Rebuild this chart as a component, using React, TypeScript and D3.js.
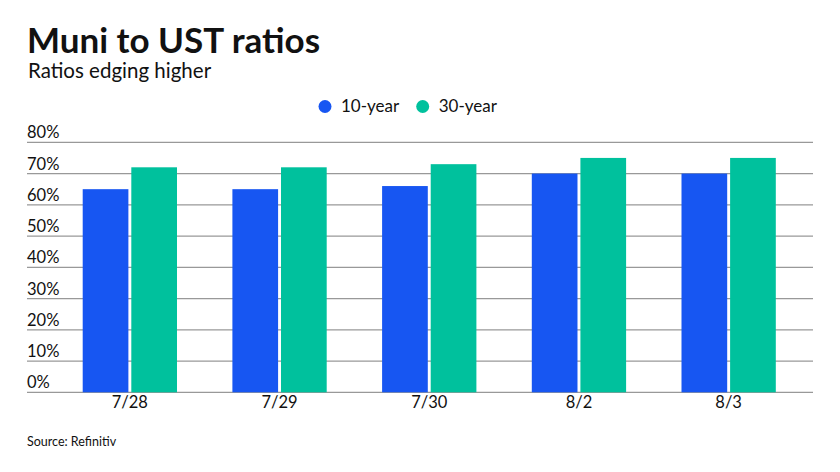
import React from "react";
import * as d3 from "d3";

const categories = ["7/28", "7/29", "7/30", "8/2", "8/3"];
const seriesNames = ["10-year", "30-year"];
const tenYear = [65, 65, 66, 70, 70];
const thirtyYear = [72, 72, 73, 75, 75];
const yTicks = [0, 10, 20, 30, 40, 50, 60, 70, 80];
const colors = ["#1756f2", "#00c19d"];

const W = 840;
const H = 472;

export default function App() {
  const x = d3.scaleBand<string>().domain(categories).range([55, 803.5]).padding(0);
  const y = d3.scaleLinear().domain([0, 80]).range([392.3, 142.3]);
  const inner = d3.scaleBand<string>().domain(seriesNames).range([0, 94.3]).paddingInner(0.06);
  const groupOffset = (x.bandwidth() - 94.3) / 2;
  const series = [tenYear, thirtyYear];
  const font = "Lato, 'Noto Sans', sans-serif";

  return (
    <svg width={W} height={H} style={{ position: "absolute", left: 0, top: 0, background: "#fff" }} fontFamily={font}>
      <rect width={W} height={H} fill="#fff" />
      <text x={27} y={52.5} fontSize={35} fontWeight={700} fill="#111">Muni to UST ratios</text>
      <text x={28} y={78} fontSize={20.5} fill="#111">Ratios edging higher</text>

      {/* legend */}
      {seriesNames.map((s, i) => {
        const cx = i === 0 ? 325 : 422.7;
        return (
          <g key={s}>
            <circle cx={cx} cy={106.5} r={6.5} fill={colors[i]} />
            <text x={cx + 16} y={112.3} fontSize={17} fill="#111">{s}</text>
          </g>
        );
      })}

      {/* gridlines and y labels */}
      {yTicks.map((t) => (
        <g key={t}>
          <line x1={27} x2={813} y1={y(t)} y2={y(t)} stroke="#999" strokeWidth={1.3} />
          <text x={27} y={y(t) - 4} fontSize={16.5} fill="#111">{t}%</text>
        </g>
      ))}

      {/* bars */}
      {categories.map((c, ci) => (
        <g key={c}>
          {series.map((vals, si) => (
            <rect
              key={si}
              x={(x(c) as number) + groupOffset + (inner(seriesNames[si]) as number)}
              y={y(vals[ci])}
              width={inner.bandwidth()}
              height={y(0) - y(vals[ci])}
              fill={colors[si]}
            />
          ))}
          <text x={(x(c) as number) + x.bandwidth() / 2} y={408} fontSize={16.5} textAnchor="middle" fill="#111">{c}</text>
        </g>
      ))}

      <text x={27} y={446} fontSize={12.5} fill="#111">Source: Refinitiv</text>
    </svg>
  );
}
